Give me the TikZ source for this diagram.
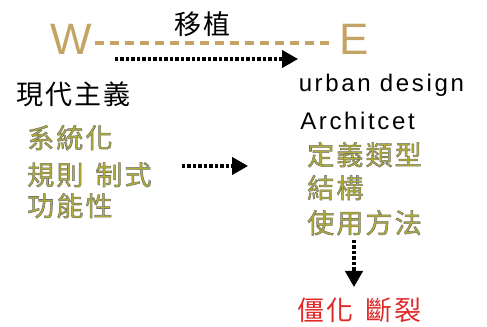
\documentclass[tikz,border=0pt]{standalone}
\usepackage{fontspec}
\setmainfont{Liberation Sans}
\newfontfamily\cjk{Noto Sans CJK TC}[LetterSpace=8]
\newfontfamily\latin{Liberation Sans}[LetterSpace=11]
\usetikzlibrary{arrows.meta}
\definecolor{gold}{RGB}{196,164,100}
\definecolor{termolive}{RGB}{178,174,52}
\definecolor{termred}{RGB}{225,40,40}
% olive text with a thin grey outline
\newcommand\rimtext[1]{\special{pdf:literal direct 2 Tr 0.4 w 0.45 0.45 0.42 RG}#1\special{pdf:literal direct 0 Tr}}

\begin{document}
\begin{tikzpicture}[x=0.75pt,y=-0.75pt,
    every node/.style={inner sep=0pt, anchor=base west},
    zh/.style={font=\cjk\fontsize{20.25pt}{24pt}\selectfont},
    term/.style={zh, text=termolive},
    en/.style={font=\latin\fontsize{18pt}{22pt}\selectfont},
    pole/.style={font=\fontsize{33pt}{36pt}\selectfont, text=gold},
    flow/.style={-{Triangle[length=12pt,width=13pt]}, line width=2.4pt,
                 dash pattern=on 2.6pt off 1.5pt}]

  \useasboundingbox (0,0) rectangle (487,327);

  % west -- east
  \node[pole] (west) at (50,55) {W};
  \node[pole] (east) at (339.5,55) {E};
  \node[zh] (transplant) at (174,35) {移植};
  \coordinate (wline) at (95,43);
  \coordinate (eline) at (335,43);
  \draw[draw=gold, line width=2.6pt, dash pattern=on 6.75pt off 4.5pt] (wline) -- (eline);

  \coordinate (top1) at (115,59);
  \coordinate (top2) at (298,59);
  \draw[flow] (top1) -- (top2);

  % left column
  \node[zh] (modern) at (16,105) {現代主義};
  \node[term] (system) at (27,148) {\rimtext{系統化}};
  \node[term] (rule) at (27,185) {\rimtext{規則\hspace{9pt}制式}};
  \node[term] (function) at (27,216) {\rimtext{功能性}};

  \coordinate (mid1) at (182,166);
  \coordinate (mid2) at (248,166);
  \draw[flow] (mid1) -- (mid2);

  % right column
  \node[en] (urban) at (298.5,92) {urban design};
  \node[en] (arch) at (300,130) {Architcet};
  \node[term] (type) at (307,165) {\rimtext{定義類型}};
  \node[term] (struct) at (307,198) {\rimtext{結構}};
  \node[term] (usage) at (307,233) {\rimtext{使用方法}};

  \coordinate (down1) at (354,240);
  \coordinate (down2) at (354,287);
  \draw[flow] (down1) -- (down2);

  \node[zh, text=termred] (rigid) at (297,321) {僵化\hspace{9pt}斷裂};

\end{tikzpicture}
\end{document}
